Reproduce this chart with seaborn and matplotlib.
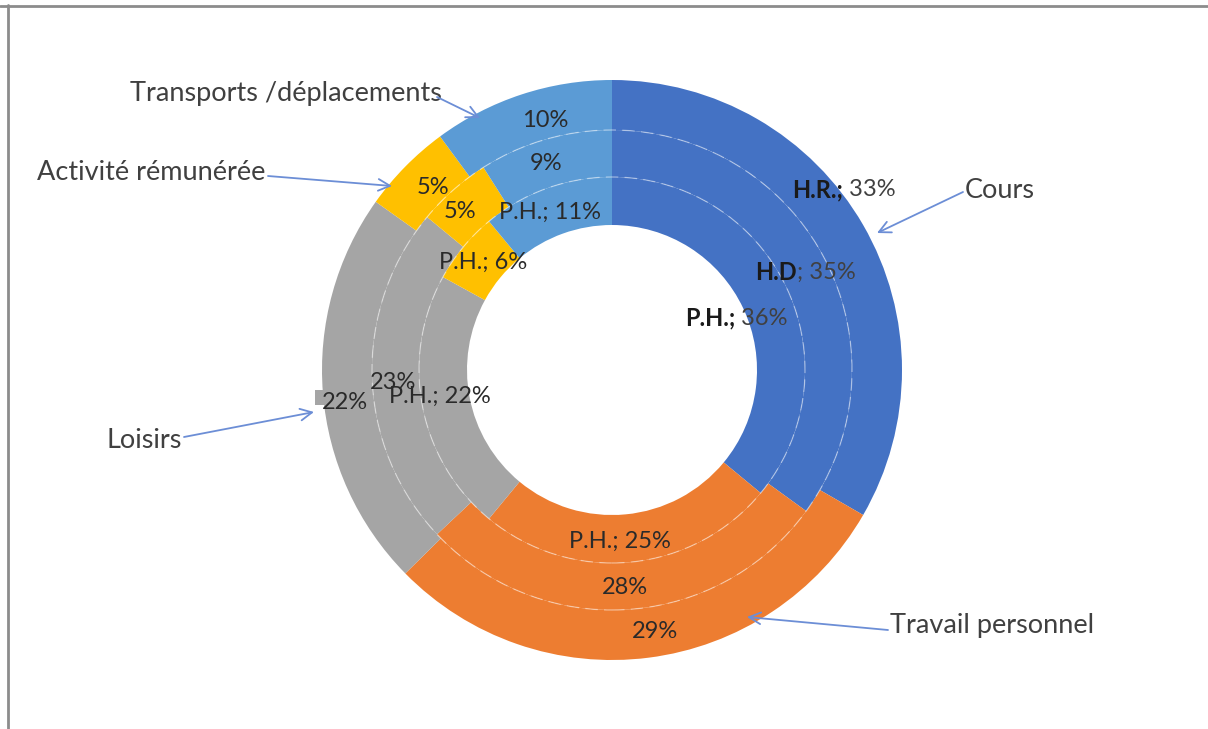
import matplotlib
matplotlib.use("Agg")
import matplotlib.pyplot as plt
import seaborn as sns
from matplotlib.patches import Circle, Rectangle
from matplotlib.lines import Line2D

# Time-use shares (%) for three groups, one ring each (outer -> inner)
categories = ["Cours", "Travail personnel", "Loisirs",
              "Activité rémunérée", "Transports /déplacements"]
hr_values = [33, 29, 22, 5, 10]   # H.R. (outer ring)
hd_values = [35, 28, 23, 5, 9]    # H.D  (middle ring)
ph_values = [36, 25, 22, 6, 11]   # P.H. (inner ring)
ring_prefix = {"hr": "H.R.;", "hd": "H.D", "ph": "P.H.;"}

sns.set_theme(style="white")
plt.rcParams["font.family"] = ["Lato", "DejaVu Sans"]

palette = sns.color_palette(["#4472C4", "#ED7D31", "#A5A5A5", "#FFC000", "#5B9BD5"])
TEXT = "#404040"
ARROW = "#6C8ED6"

W, H = 1208, 729
fig = plt.figure(figsize=(W / 100, H / 100), dpi=100)
ax = fig.add_axes([0, 0, 1, 1])

# pixel-based layout helpers: 1 data unit = outer radius
SCALE, CX, CY = 290.0, 612.0, 370.0
def P(px, py):
    return ((px - CX) / SCALE, (CY - py) / SCALE)

rings = [(hr_values, 1.0, 50), (hd_values, 240 / SCALE, 47), (ph_values, 193 / SCALE, 48)]
for vals, radius, width in rings:
    ax.pie(vals, radius=radius, colors=palette, startangle=90, counterclock=False,
           wedgeprops=dict(width=width / SCALE, linewidth=0))

# faint dashed separators between rings
for r in (240 / SCALE, 193 / SCALE):
    ax.add_patch(Circle((0, 0), r, fill=False, ec="white", lw=0.9,
                        ls=(0, (10, 5)), alpha=0.45))

# small leftover leader marker on the outer grey slice
x0, y0 = P(315, 405)
x1, y1 = P(325, 390)
ax.add_patch(Rectangle((x0, y0), x1 - x0, y1 - y0, color=palette[2], lw=0))

ax.set_xlim(-CX / SCALE, (W - CX) / SCALE)
ax.set_ylim(-(H - CY) / SCALE, CY / SCALE)
ax.set_aspect("auto")
ax.axis("off")

DL = 17  # data label size
LBL = "#2a2a2a"

def split_label(split_px, prefix, value):
    x, y = P(*split_px)
    ax.text(x, y, prefix, ha="right", va="center", fontsize=DL,
            fontweight="bold", color="#1a1a1a")
    ax.text(x, y, value, ha="left", va="center", fontsize=DL, color=TEXT)

def plain_label(center_px, s):
    x, y = P(*center_px)
    ax.text(x, y, s, ha="center", va="center", fontsize=DL, color=LBL)

# Cours labels with bold ring prefix
split_label((843, 190), ring_prefix["hr"], f" {hr_values[0]}%")
split_label((797, 272), ring_prefix["hd"], f"; {hd_values[0]}%")
split_label((735, 318), ring_prefix["ph"], f" {ph_values[0]}%")

# outer ring values
outer_pos = [None, (655, 632), (345, 402), (433, 188), (545, 120)]
for i, pos in enumerate(outer_pos):
    if pos:
        plain_label(pos, f"{hr_values[i]}%")
# middle ring values
mid_pos = [None, (625, 588), (393, 382), (460, 212), (546, 163)]
for i, pos in enumerate(mid_pos):
    if pos:
        plain_label(pos, f"{hd_values[i]}%")
# inner ring values
inner_pos = [None, (620, 541), (440, 396), (483, 262), (550, 212)]
for i, pos in enumerate(inner_pos):
    if pos:
        plain_label(pos, f"{ring_prefix['ph']} {ph_values[i]}%")

# category callouts
CAT = 19.5
callouts = [
    # text anchor, ha, arrow start, arrow end
    ((965, 190), "left", (963, 192), (877, 233)),
    ((890, 625), "left", (888, 630), (747, 617)),
    ((182, 440), "right", (184, 437), (314, 412)),
    ((265, 173), "right", (268, 176), (392, 186)),
    ((442, 93), "right", (437, 97), (480, 118)),
]
for name, (tpos, ha, a0, a1) in zip(categories, callouts):
    tx, ty = P(*tpos)
    ax.text(tx, ty, name, ha=ha, va="center", fontsize=CAT, color=TEXT)
    ax.annotate("", xy=P(*a1), xytext=P(*a0),
                arrowprops=dict(arrowstyle="->,head_length=0.7,head_width=0.35",
                                color=ARROW, lw=1.3, shrinkA=0, shrinkB=0))

# chart-area frame (top and left edges)
fig.add_artist(Line2D([0, 1], [1 - 5.5 / H, 1 - 5.5 / H], transform=fig.transFigure,
                      color="#8c8c8c", lw=2.0))
fig.add_artist(Line2D([8 / W, 8 / W], [0, 1 - 5 / H], transform=fig.transFigure,
                      color="#8c8c8c", lw=2.0))

fig.savefig("out.png", dpi=100, facecolor="white")
